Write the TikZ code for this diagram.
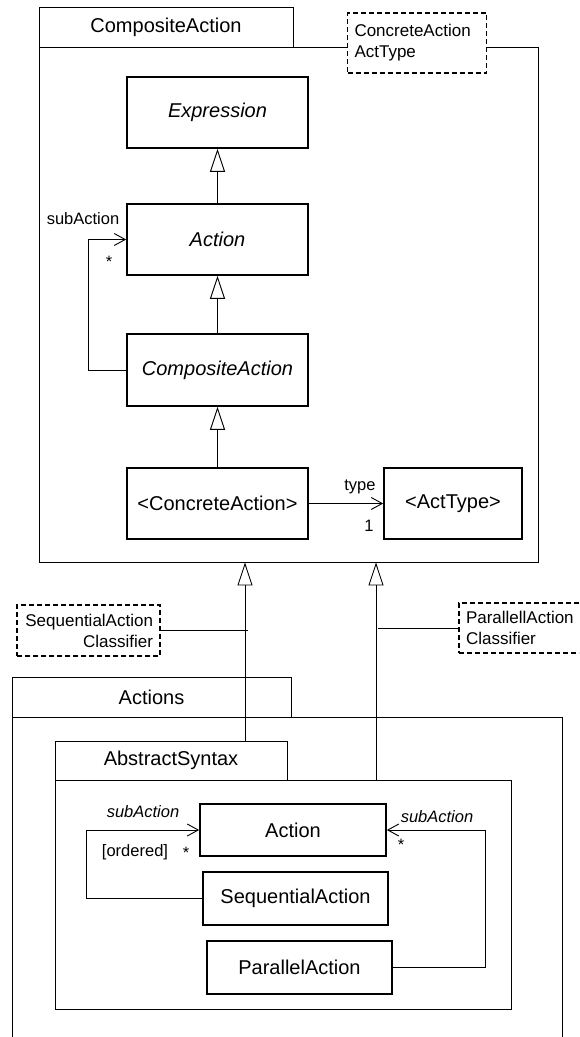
\documentclass[tikz,border=0pt]{standalone}
\usepackage{fontspec}
\setmainfont{Liberation Sans}
\usetikzlibrary{arrows.meta}
\begin{document}
\begin{tikzpicture}[x=1pt,y=-1pt,
  pkg/.style={draw, line width=0.9pt, inner sep=0pt, font=\fontsize{20}{24}\selectfont},
  cls/.style={draw, fill=white, line width=1.7pt, inner sep=0pt, font=\fontsize{20}{24}\selectfont},
  note/.style={draw, fill=white, dash pattern=on 5pt off 3pt, line width=1.3pt, inner xsep=7pt, inner ysep=0pt, font=\fontsize{17}{21}\selectfont},
  lbl/.style={inner sep=0pt, font=\fontsize{16.5}{20}\selectfont},
  gen/.style={draw, line width=0.9pt, -{Triangle[open, length=23pt, width=15pt]}},
  nav/.style={draw, line width=0.9pt, -{Straight Barb[length=11pt, width=12pt]}},
  link/.style={draw, line width=0.9pt}]
\useasboundingbox (0,0) rectangle (579,1037);
\clip (0,0) rectangle (579,1037);

% ---------- CompositeAction package ----------
\node[pkg, minimum width=499pt, minimum height=515pt] (cbody) at (288.5,304.5) {};
\node[pkg, minimum width=254pt, minimum height=40pt] (ctab) at (166,27) {CompositeAction};
\node[note, text width=125pt, minimum height=60pt, align=left] (n1) at (417,43) {ConcreteAction\\ActType};

\node[cls, minimum width=181pt, minimum height=71pt] (expr) at (217.5,112.5) {\itshape Expression};
\node[cls, minimum width=181pt, minimum height=71pt] (act) at (217.5,239.5) {\itshape Action};
\node[cls, minimum width=181pt, minimum height=72pt] (comp) at (217.5,370) {\itshape CompositeAction};
\node[cls, minimum width=181pt, minimum height=71pt] (conc) at (217.5,503.5) {<ConcreteAction>};
\node[cls, minimum width=138pt, minimum height=71pt] (actt) at (453,503.5) {<ActType>};

\draw[gen] (act) -- (expr);
\draw[gen] (comp) -- (act);
\draw[gen] (conc) -- (comp);
\draw[nav] (conc.east) -- (actt.west);
\node[lbl] (ltype) at (360,487) {type};
\node[lbl] (lone) at (369,526) {1};

\coordinate (lp) at (88,0);
\draw[nav] (comp.west) -- (comp.west -| lp) -- (act.west -| lp) -- (act.west);
\node[lbl] (lsub) at (83,219) {subAction};
\node[lbl] (lstar) at (109,262) {*};

% ---------- Actions package ----------
\node[pkg, minimum width=550pt, minimum height=383pt] (abody) at (287,908.5) {};
\node[pkg, minimum width=279pt, minimum height=40pt] (atab) at (151.5,697) {Actions};

% ---------- AbstractSyntax package ----------
\node[pkg, minimum width=456pt, minimum height=229pt] (sbody) at (283,894.5) {};
\node[pkg, minimum width=232pt, minimum height=39pt] (stab) at (171,760.5) {AbstractSyntax};

\node[cls, minimum width=186pt, minimum height=52pt] (iact) at (293,830) {Action};
\node[cls, minimum width=185pt, minimum height=53pt, line width=1.3pt] (iseq) at (295.5,898.5) {SequentialAction};
\node[cls, minimum width=185pt, minimum height=53pt] (ipar) at (299.5,967.5) {ParallelAction};

\coordinate (ll) at (86,0);
\coordinate (rl) at (485,0);
\draw[nav] (iseq.west) -- (iseq.west -| ll) -- (iact.west -| ll) -- (iact.west);
\draw[nav] (ipar.east) -- (ipar.east -| rl) -- (iact.east -| rl) -- (iact.east);
\node[lbl] (isub1) at (143,812) {\itshape subAction};
\node[lbl] (iord) at (135,852) {[ordered]};
\node[lbl] (istar1) at (186,853) {*};
\node[lbl] (isub2) at (437,817) {\itshape subAction};
\node[lbl] (istar2) at (401,845) {*};

% ---------- generalizations between packages ----------
\coordinate (g1) at (245,0);
\coordinate (g2) at (376,0);
\draw[gen] (stab.north -| g1) -- (cbody.south -| g1);
\draw[gen] (sbody.north -| g2) -- (cbody.south -| g2);

\node[note, text width=129pt, minimum height=51pt, align=right] (n2) at (88.5,630.5) {SequentialAction\\Classifier};
\node[note, text width=129pt, minimum height=50pt, align=left] (n3) at (530.5,628) {ParallellAction\\Classifier};
\draw[link] (n2.east) -- ([xshift=3pt]n2.east -| g1);
\draw[link] (n3.west) -- ([xshift=2pt]n3.west -| g2);
\end{tikzpicture}
\end{document}
